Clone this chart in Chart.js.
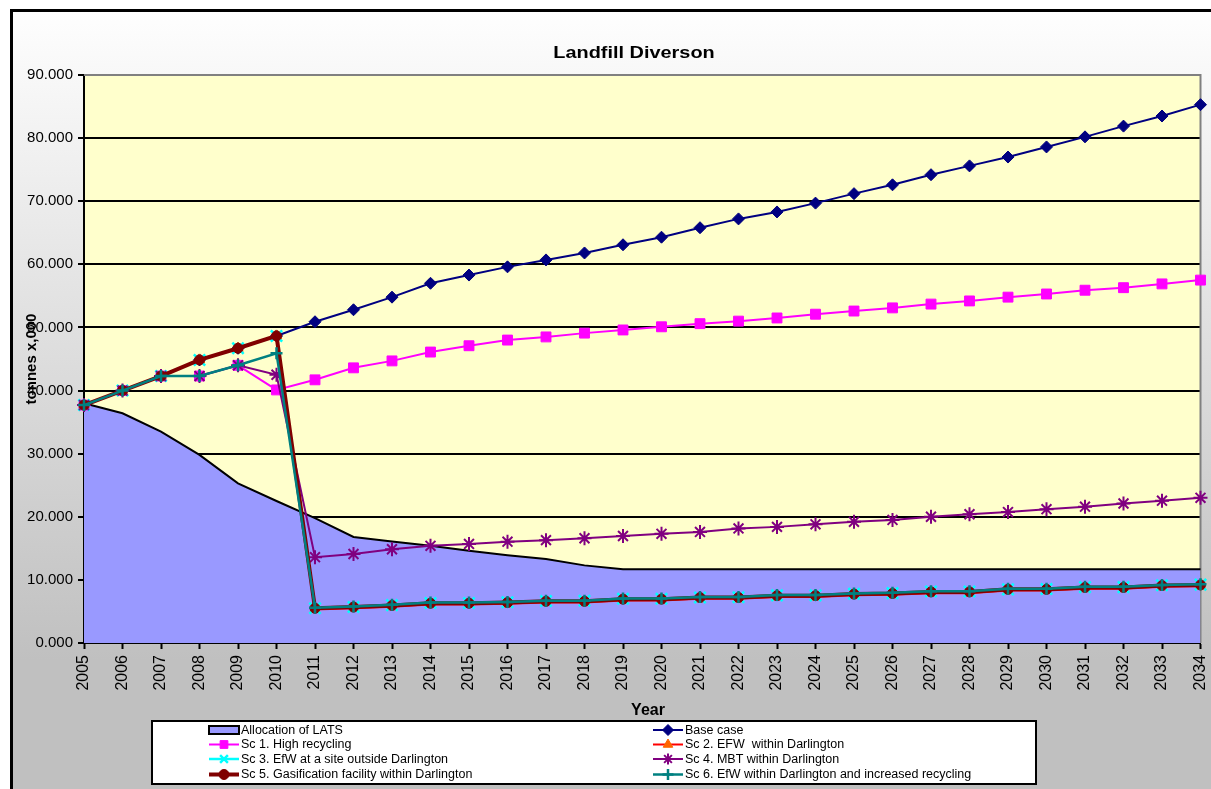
<!DOCTYPE html>
<html>
<head>
<meta charset="utf-8">
<script src="https://cdn.jsdelivr.net/npm/chart.js@4/dist/chart.umd.min.js"></script>
<style>
  html, body { margin: 0; padding: 0; background: #fff; }
  canvas { display: block; }
</style>
</head>
<body>
<canvas id="chart" width="1211" height="789"></canvas>
<script>
// Years on the horizontal axis
const years = ['2005','2006','2007','2008','2009','2010','2011','2012','2013','2014',
               '2015','2016','2017','2018','2019','2020','2021','2022','2023','2024',
               '2025','2026','2027','2028','2029','2030','2031','2032','2033','2034'];

// Landfill allowance (tonnes x 1,000)
const allocationLATS = [38.0, 36.4, 33.5, 29.8, 25.3, 22.5, 19.8, 16.8, 16.1, 15.4,
                        14.6, 13.9, 13.3, 12.3, 11.7, 11.7, 11.7, 11.7, 11.7, 11.7,
                        11.7, 11.7, 11.7, 11.7, 11.7, 11.7, 11.7, 11.7, 11.7, 11.7];

const baseCase = [37.7, 40.0, 42.3, 44.85, 46.7, 48.65, 50.9, 52.8, 54.8, 57.0,
                  58.3, 59.6, 60.7, 61.8, 63.1, 64.3, 65.8, 67.2, 68.3, 69.7,
                  71.2, 72.6, 74.2, 75.6, 77.0, 78.6, 80.2, 81.9, 83.5, 85.3];

const sc1HighRecycling = [37.7, 40.0, 42.3, 42.3, 44.0, 40.1, 41.7, 43.6, 44.7, 46.1,
                          47.1, 48.0, 48.5, 49.1, 49.6, 50.1, 50.6, 51.0, 51.5, 52.1,
                          52.6, 53.1, 53.7, 54.2, 54.8, 55.3, 55.9, 56.3, 56.9, 57.5];

const sc2EfwWithin = [37.7, 40.0, 42.3, 44.85, 46.7, 48.65, 5.3, 5.5, 5.75, 6.1,
                      6.1, 6.2, 6.4, 6.4, 6.75, 6.75, 7.0, 7.0, 7.3, 7.3,
                      7.55, 7.65, 7.9, 7.9, 8.3, 8.3, 8.6, 8.6, 8.9, 9.0];

const sc3EfwOutside = [37.7, 40.0, 42.3, 44.85, 46.7, 48.65, 5.5, 5.7, 6.0, 6.35,
                       6.35, 6.45, 6.65, 6.7, 7.0, 7.0, 7.2, 7.25, 7.55, 7.55,
                       7.8, 7.9, 8.15, 8.15, 8.5, 8.55, 8.85, 8.85, 9.15, 9.25];

const sc4Mbt = [37.7, 40.0, 42.3, 42.3, 44.0, 42.5, 13.6, 14.1, 14.85, 15.4,
                15.7, 16.05, 16.3, 16.6, 16.95, 17.3, 17.6, 18.15, 18.4, 18.8,
                19.2, 19.5, 20.0, 20.4, 20.75, 21.2, 21.6, 22.1, 22.55, 23.0];

const sc5Gasification = [37.7, 40.0, 42.3, 44.85, 46.7, 48.65, 5.5, 5.7, 5.95, 6.3,
                         6.3, 6.4, 6.6, 6.6, 6.95, 6.95, 7.2, 7.2, 7.5, 7.5,
                         7.75, 7.85, 8.1, 8.1, 8.5, 8.5, 8.8, 8.8, 9.1, 9.2];

const sc6EfwRecycling = [37.7, 40.0, 42.3, 42.3, 44.0, 45.9, 5.6, 5.8, 6.05, 6.4,
                         6.4, 6.5, 6.7, 6.7, 7.05, 7.05, 7.3, 7.3, 7.6, 7.6,
                         7.85, 7.95, 8.2, 8.2, 8.6, 8.6, 8.9, 8.9, 9.2, 9.3];

const FONT = '"Liberation Sans", Arial, sans-serif';

function lineSet(label, data, color, opts) {
  return Object.assign({
    label, data,
    borderColor: color,
    backgroundColor: color,
    pointBackgroundColor: color,
    pointBorderColor: color,
    borderWidth: 2,
    pointBorderWidth: 1,
    pointRadius: 5,
    pointHoverRadius: 5,
    tension: 0,
    fill: false
  }, opts);
}

const datasets = [
  {
    label: 'Allocation of LATS',
    data: allocationLATS,
    fill: 'origin',
    backgroundColor: '#9999FF',
    borderColor: '#000000',
    borderWidth: 2,
    pointRadius: 0,
    pointHoverRadius: 0,
    tension: 0,
    order: 8
  },
  lineSet('Base case', baseCase, '#000080', { pointStyle: 'rectRot', pointRadius: 6, order: 7 }),
  lineSet('Sc 1. High recycling', sc1HighRecycling, '#FF00FF', { pointStyle: 'rect', pointRadius: 7, order: 6 }),
  lineSet('Sc 2. EFW  within Darlington', sc2EfwWithin, '#FF0000',
          { pointStyle: 'triangle', pointRadius: 6, pointBackgroundColor: '#FF6600', pointBorderColor: '#FF6600', order: 5 }),
  lineSet('Sc 3. EfW at a site outside Darlington', sc3EfwOutside, '#00FFFF',
          { pointStyle: 'crossRot', pointRadius: 8, pointBorderWidth: 2.5, borderWidth: 2.5, order: 4 }),
  lineSet('Sc 4. MBT within Darlington', sc4Mbt, '#800080',
          { pointStyle: 'star', pointRadius: 7, pointBorderWidth: 2, order: 3 }),
  lineSet('Sc 5. Gasification facility within Darlington', sc5Gasification, '#800000',
          { pointStyle: 'circle', pointRadius: 5, borderWidth: 4, order: 2 }),
  lineSet('Sc 6. EfW within Darlington and increased recycling', sc6EfwRecycling, '#008080',
          { pointStyle: 'cross', pointRadius: 6, pointBorderWidth: 2.5, borderWidth: 2.5, order: 1 })
];

function drawLegend(chart) {
  const ctx = chart.ctx;
  const bx = 152, by = 721, bw = 884, bh = 63;
  ctx.save();
  ctx.fillStyle = '#ffffff';
  ctx.fillRect(bx, by, bw, bh);
  ctx.strokeStyle = '#000000';
  ctx.lineWidth = 2;
  ctx.strokeRect(bx, by, bw, bh);

  const cols = [209, 653];
  const rows = [730, 744.5, 759, 774.5];
  ctx.font = '12.5px ' + FONT;
  ctx.textBaseline = 'middle';
  ctx.textAlign = 'left';
  chart.data.datasets.forEach((ds, i) => {
    const x0 = cols[i % 2];
    const y = rows[Math.floor(i / 2)];
    if (ds.fill) {
      ctx.fillStyle = ds.backgroundColor;
      ctx.fillRect(x0, y - 4, 30, 8);
      ctx.strokeStyle = '#000';
      ctx.lineWidth = 2;
      ctx.strokeRect(x0, y - 4, 30, 8);
    } else {
      ctx.strokeStyle = ds.borderColor;
      ctx.lineWidth = ds.borderWidth;
      ctx.beginPath();
      ctx.moveTo(x0, y);
      ctx.lineTo(x0 + 30, y);
      ctx.stroke();
      ctx.fillStyle = ds.pointBackgroundColor;
      ctx.strokeStyle = ds.pointBorderColor;
      ctx.lineWidth = ds.pointBorderWidth;
      Chart.helpers.drawPoint(ctx, {
        pointStyle: ds.pointStyle,
        rotation: 0,
        radius: Math.min(ds.pointRadius, 5.5),
        borderWidth: ds.pointBorderWidth
      }, x0 + 15, y);
    }
    ctx.fillStyle = '#000';
    ctx.fillText(ds.label, x0 + 32, y + 0.5);
  });
  ctx.restore();
}

const framePlugin = {
  id: 'frame',
  beforeDraw(chart) {
    const { ctx, chartArea: a, width, height } = chart;
    ctx.save();
    ctx.fillStyle = '#ffffff';
    ctx.fillRect(0, 0, width, height);
    const g = ctx.createLinearGradient(0, 12, 0, 660);
    g.addColorStop(0, '#fefefe');
    g.addColorStop(1, '#c0c0c0');
    ctx.fillStyle = g;
    ctx.fillRect(10, 9, width - 10, height - 9);
    ctx.fillStyle = '#000000';
    ctx.fillRect(10, 9, width - 10, 3);
    ctx.fillRect(10, 9, 3, height - 9);
    ctx.fillStyle = '#FFFFCC';
    ctx.fillRect(a.left, a.top, a.right - a.left, a.bottom - a.top);
    ctx.restore();
  },
  beforeDatasetsDraw(chart) {
    const { ctx, chartArea: a } = chart;
    ctx.save();
    ctx.strokeStyle = '#808080';
    ctx.lineWidth = 2;
    ctx.beginPath();
    ctx.moveTo(a.left, a.top);
    ctx.lineTo(a.right, a.top);
    ctx.lineTo(a.right, a.bottom);
    ctx.stroke();
    ctx.restore();
  },
  afterDraw(chart) {
    const { ctx } = chart;
    ctx.save();
    ctx.fillStyle = '#000';
    ctx.textAlign = 'center';
    ctx.textBaseline = 'middle';
    // chart title, slightly widened
    ctx.save();
    ctx.translate(634, 53);
    ctx.scale(1.17, 1);
    ctx.font = 'bold 17px ' + FONT;
    ctx.fillText('Landfill Diverson', 0, 0);
    ctx.restore();
    ctx.font = 'bold 16px ' + FONT;
    ctx.fillText('Year', 648, 711);
    ctx.translate(32, 359);
    ctx.rotate(-Math.PI / 2);
    ctx.font = 'bold 15px ' + FONT;
    ctx.fillText('tonnes x,000', 0, 0);
    ctx.restore();
    drawLegend(chart);
  }
};

new Chart(document.getElementById('chart'), {
  type: 'line',
  data: { labels: years, datasets },
  plugins: [framePlugin],
  options: {
    responsive: false,
    animation: false,
    devicePixelRatio: 1,
    layout: { padding: { left: 14, right: 5, top: 75, bottom: 94 } },
    plugins: {
      legend: { display: false },
      title: { display: false },
      tooltip: { enabled: false }
    },
    scales: {
      x: {
        type: 'category',
        offset: false,
        grid: {
          drawOnChartArea: false,
          drawTicks: true,
          tickLength: 6,
          tickColor: '#000',
          tickWidth: 2
        },
        border: { color: '#000', width: 2 },
        ticks: {
          color: '#000',
          font: { family: FONT, size: 16 },
          minRotation: 90,
          maxRotation: 90,
          autoSkip: false,
          padding: 6
        },
        afterFit(scale) {
          scale.height = 52;
          scale.paddingLeft = 0;
          scale.paddingRight = 0;
        }
      },
      y: {
        min: 0,
        max: 90,
        grid: {
          color: (c) => (c.tick && c.tick.value === 90) ? 'rgba(0,0,0,0)' : '#000',
          lineWidth: 2,
          tickLength: 6,
          tickColor: '#000',
          tickWidth: 2
        },
        border: { color: '#000', width: 2 },
        ticks: {
          stepSize: 10,
          color: '#000',
          font: { family: FONT, size: 15 },
          padding: 5,
          callback: (v) => Number(v).toFixed(3)
        },
        afterFit(scale) {
          scale.width = 70;
        }
      }
    }
  }
});
</script>
</body>
</html>
